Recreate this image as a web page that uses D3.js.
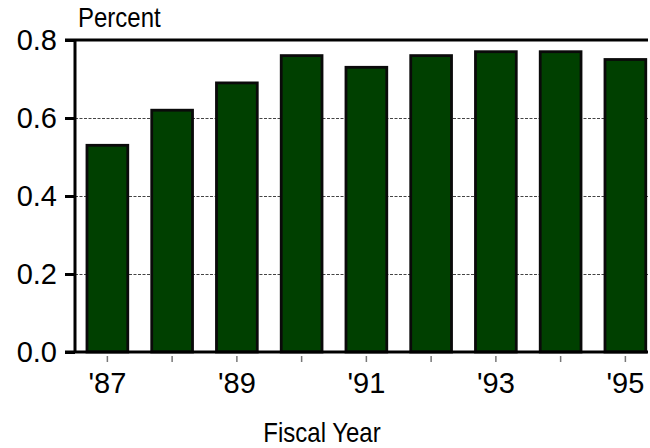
<!DOCTYPE html>
<html>
<head>
<meta charset="utf-8">
<script src="https://cdn.jsdelivr.net/npm/d3@7"></script>
<style>
  html, body { margin: 0; padding: 0; background: #fff; }
  svg { display: block; }
  text { font-family: Arial, "Liberation Sans", sans-serif; fill: #000; }
</style>
</head>
<body>
<svg id="chart" width="650" height="448"></svg>
<script>
const years = ["1987","1988","1989","1990","1991","1992","1993","1994","1995"];
const values = [0.53, 0.62, 0.69, 0.76, 0.73, 0.76, 0.77, 0.77, 0.75];
const yTicks = [0, 0.2, 0.4, 0.6, 0.8];
const xLabels = {"1987":"'87","1989":"'89","1991":"'91","1993":"'93","1995":"'95"};
const yTitle = "Percent";
const xTitle = "Fiscal Year";

(function () {
const svg = d3.select("#chart");
const pLeft = 75, pRight = 648, pTop = 40, pBottom = 352;
const tickFont = 29, titleFont = 24;
const ff = "Arial, 'Liberation Sans', sans-serif";

const x = d3.scaleBand().domain(years).range([pLeft, 657.75]).paddingInner(0.37).paddingOuter(0.185);
const y = d3.scaleLinear().domain([0, 0.8]).range([pBottom, pTop]);

// gridlines
svg.append("g").selectAll("line").data(yTicks.filter(d => d > 0 && d < 0.8)).join("line")
  .attr("x1", pLeft).attr("x2", pRight)
  .attr("y1", d => y(d) + 0.5).attr("y2", d => y(d) + 0.5)
  .attr("stroke", "#444").attr("stroke-width", 1).attr("stroke-dasharray", "3,1.5");

// bars
svg.append("g").selectAll("rect").data(years).join("rect")
  .attr("x", d => x(d))
  .attr("y", (d, i) => y(values[i]))
  .attr("width", x.bandwidth())
  .attr("height", (d, i) => y(0) - y(values[i]))
  .attr("fill", "#004000")
  .attr("stroke", "#0a0a0a")
  .attr("stroke-width", 2.8);

// top line
svg.append("line").attr("x1", 65).attr("x2", pRight).attr("y1", pTop).attr("y2", pTop)
  .attr("stroke", "#000").attr("stroke-width", 3);

// y axis
const yAxis = svg.append("g").attr("transform", `translate(${pLeft},0)`)
  .call(d3.axisLeft(y).tickValues(yTicks).tickFormat(d3.format(".1f")).tickSize(10).tickPadding(8));
yAxis.select(".domain").attr("stroke", "#000").attr("stroke-width", 3).attr("d", `M0,${pTop}V${pBottom}`);
yAxis.selectAll(".tick line").attr("stroke", "#000").attr("stroke-width", 3);
yAxis.selectAll(".tick text").attr("font-size", tickFont).attr("font-family", ff).attr("fill", "#000").attr("dy", "0.34em");

// x axis
const xAxis = svg.append("g").attr("transform", `translate(0,${pBottom})`)
  .call(d3.axisBottom(x).tickSize(0).tickFormat(d => xLabels[d] || ""));
xAxis.select(".domain").remove();
xAxis.selectAll(".tick text").attr("font-size", tickFont).attr("font-family", ff).attr("fill", "#000").attr("y", 20);
xAxis.selectAll(".tick").append("line")
  .attr("y1", 4).attr("y2", 10).attr("stroke", "#777").attr("stroke-width", 1.5);

svg.append("line").attr("x1", 65).attr("x2", pRight).attr("y1", pBottom).attr("y2", pBottom)
  .attr("stroke", "#000").attr("stroke-width", 3);

svg.append("text").attr("transform", "translate(78,27) scale(1,1.15)").attr("font-size", titleFont).text(yTitle);
svg.append("text").attr("transform", "translate(322,442) scale(1,1.15)").attr("text-anchor", "middle").attr("font-size", titleFont).text(xTitle);
})();
</script>
</body>
</html>
